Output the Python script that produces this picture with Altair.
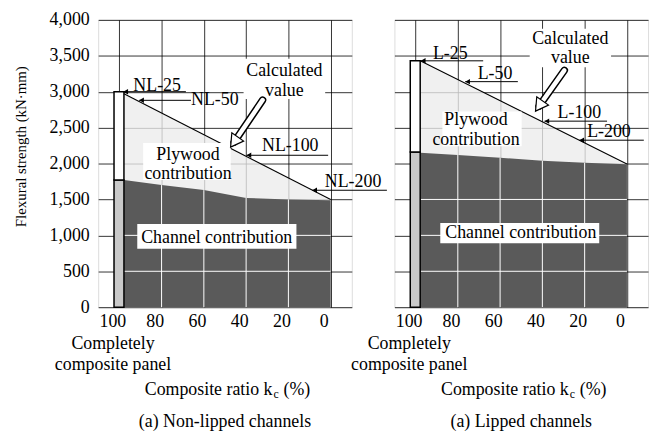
import altair as alt
import pandas as pd

FONT = "Liberation Serif, Times New Roman, serif"
W, H = 256, 290
KC_DOMAIN = [110, -10]
Y_DOMAIN = [0, 4000]
PX_KC = W / (KC_DOMAIN[0] - KC_DOMAIN[1])
PX_VAL = H / (Y_DOMAIN[1] - Y_DOMAIN[0])

x_ticks = [100, 80, 60, 40, 20, 0]
y_ticks = [0, 500, 1000, 1500, 2000, 2500, 3000, 3500, 4000]

# ---- (a) Non-lipped channels ----
nl_kc = [97.8, 80, 60, 40, 20, 0]
nl_channel = [1770, 1700, 1630, 1520, 1500, 1490]
nl_calc_kc = [97.8, 0]
nl_calc = [2970, 1500]
nl_full = [1770, 3000]          # completely composite panel: channel part, total
nl_names = ["NL-25", "NL-50", "NL-100", "NL-200"]

# ---- (a) Lipped channels ----
l_kc = [97.8, 80, 60, 40, 20, 0]
l_channel = [2150, 2120, 2080, 2040, 2010, 1990]
l_calc_kc = [97.8, 0]
l_calc = [3430, 1995]
l_full = [2160, 3430]
l_names = ["L-25", "L-50", "L-100", "L-200"]

BAR_KC = [102.5, 97.8]

# annotation geometry (composite ratio / strength coordinates)
nl_ann = dict(
    tip_kc=[98.1, 90.6, 39.8, 8.7], tip_val=[3000, 2880, 2115, 1628],
    end_kc=[68.5, 66.1, 1.2, -26.6],
    txt_kc=[82.1, 54.8, 19.1, -10.6], txt_val=[3015, 2814, 2172, 1676],
    calc_txt=[("Calculated", 21.9, 3220), ("value", 21.9, 2945)],
    calc_box=[41.2, 2.6, 3460, 2900],
    arrow=[32.2, 2883, 47.3, 2230],
    ply_txt=[("Plywood", 67.5, 2050), ("contribution", 67.5, 1779)],
    ply_box=[88.7, 47.3, 2285, 1770],
    ch_txt=[("Channel contribution", 53.9, 897)],
    ch_box=[91.5, 16.2, 1159, 814],
    caption="(a) Non-lipped channels",
)
l_ann = dict(
    tip_kc=[97.5, 76.5, 39.0, 22.5], tip_val=[3430, 3140, 2590, 2325],
    end_kc=[68.0, 51.6, 9.4, -8.0],
    txt_kc=[83.6, 62.4, 22.5, 8.5], txt_val=[3455, 3175, 2640, 2370],
    calc_txt=[("Calculated", 26.8, 3665), ("value", 26.8, 3393)],
    calc_box=[46.0, 7.5, 3875, 3340],
    arrow=[29.6, 3297, 43.2, 2731],
    ply_txt=[("Plywood", 71.4, 2530), ("contribution", 71.4, 2262)],
    ply_box=[87.3, 49.8, 2725, 2240],
    ch_txt=[("Channel contribution", 50.2, 966)],
    ch_box=[88.3, 13.1, 1172, 890],
    caption="(a) Lipped channels",
)

CHANNEL_FILL = "#5a5a5a"
PLY_FILL = "#ececec"


def X(field, axis):
    return alt.X(f"{field}:Q", scale=alt.Scale(domain=KC_DOMAIN, nice=False, zero=False), axis=axis)


def Y(field, axis):
    return alt.Y(f"{field}:Q", scale=alt.Scale(domain=Y_DOMAIN, nice=False), axis=axis)


def panel(kc, channel, calc_kc, calc, full, names, ann, show_y):
    xaxis = alt.Axis(values=x_ticks, grid=True, ticks=False, domain=False, title=None,
                     labelFont=FONT, labelFontSize=18, labelColor="black", labelOffset=-7,
                     labelPadding=5, labelFlush=False, labelOverlap=False,
                     gridColor="black", gridWidth=0.8)
    yaxis = alt.Axis(values=y_ticks, grid=True, ticks=False, domain=False, title=None,
                     labels=show_y, format=",d", labelFont=FONT, labelFontSize=18,
                     labelColor="black", labelPadding=9, gridColor="black", gridWidth=0.8)

    calc_df = pd.DataFrame({"kc": calc_kc, "v": calc})
    ch_df = pd.DataFrame({"kc": kc, "v": channel})

    ply = alt.Chart(calc_df).mark_area(color=PLY_FILL, opacity=0.78).encode(
        x=X("kc", xaxis), y=Y("v", yaxis), y2=alt.datum(0))
    ch = alt.Chart(ch_df).mark_area(color=CHANNEL_FILL, opacity=1).encode(
        x=X("kc", xaxis), y=Y("v", yaxis), y2=alt.datum(0))

    # white grid lines across the channel area
    vgrid = ch_df[ch_df["kc"].isin(x_ticks[1:-1])]
    vg = alt.Chart(vgrid).mark_rule(color="white", strokeWidth=1).encode(
        x=X("kc", xaxis), y=Y("v", yaxis), y2=alt.datum(0))
    hgrid = pd.DataFrame({"v": [t for t in y_ticks if 0 < t < min(channel)],})
    hgrid["k1"] = kc[0]
    hgrid["k2"] = kc[-1]
    hg = alt.Chart(hgrid).mark_rule(color="white", strokeWidth=1).encode(
        x=X("k1", xaxis), x2="k2:Q", y=Y("v", yaxis))

    bar_df = pd.DataFrame({"k1": [BAR_KC[0]], "k2": [BAR_KC[1]],
                           "v0": [0], "v1": [full[0]], "v2": [full[1]]})
    bar_lo = alt.Chart(bar_df).mark_rect(fill="#c9c9c9", stroke="black", strokeWidth=1.5).encode(
        x=X("k1", xaxis), x2="k2:Q", y=Y("v0", yaxis), y2="v1:Q")
    bar_hi = alt.Chart(bar_df).mark_rect(fill="white", stroke="black", strokeWidth=1.5).encode(
        x=X("k1", xaxis), x2="k2:Q", y=Y("v1", yaxis), y2="v2:Q")

    line = alt.Chart(calc_df).mark_line(color="black", strokeWidth=1.1).encode(
        x=X("kc", xaxis), y=Y("v", yaxis))

    lab_df = pd.DataFrame({"name": names, "tk": ann["tip_kc"], "tv": ann["tip_val"],
                           "ek": ann["end_kc"], "xk": ann["txt_kc"], "xv": ann["txt_val"]})
    leaders = alt.Chart(lab_df).mark_rule(color="black", strokeWidth=1).encode(
        x=X("tk", xaxis), x2="ek:Q", y=Y("tv", yaxis))
    heads = alt.Chart(lab_df).mark_point(shape="triangle-left", filled=True, color="black",
                                         size=30, opacity=1, xOffset=2.4).encode(
        x=X("tk", xaxis), y=Y("tv", yaxis))

    boxes = pd.DataFrame([ann["calc_box"], ann["ply_box"], ann["ch_box"]],
                         columns=["k1", "k2", "v1", "v2"])
    box = alt.Chart(boxes).mark_rect(fill="white").encode(
        x=X("k1", xaxis), x2="k2:Q", y=Y("v1", yaxis), y2="v2:Q")

    lab_txt = alt.Chart(lab_df).mark_text(font=FONT, fontSize=18, color="black",
                                          align="center", baseline="alphabetic").encode(
        x=X("xk", xaxis), y=Y("xv", yaxis), text="name:N")
    other = pd.DataFrame(ann["calc_txt"] + ann["ply_txt"] + ann["ch_txt"], columns=["t", "k", "v"])
    other_txt = alt.Chart(other).mark_text(font=FONT, fontSize=18, color="black",
                                           align="center", baseline="alphabetic").encode(
        x=X("k", xaxis), y=Y("v", yaxis), text="t:N")

    # hollow "Calculated value" arrow
    tk, tv, hk, hv = ann["arrow"]
    hc_k = hk - 3.5 / PX_KC
    hc_v = hv + 5.0 / PX_VAL
    shaft_df = pd.DataFrame({"k": [tk, hc_k], "v": [tv, hc_v]})
    shaft_o = alt.Chart(shaft_df).mark_line(color="black", strokeWidth=7.5, strokeCap="round").encode(
        x=X("k", xaxis), y=Y("v", yaxis))
    shaft_i = alt.Chart(shaft_df).mark_line(color="white", strokeWidth=4.5, strokeCap="round").encode(
        x=X("k", xaxis), y=Y("v", yaxis))
    head_df = pd.DataFrame({"k": [hk], "v": [hv]})
    head = alt.Chart(head_df).mark_point(shape="triangle-up", angle=215, size=210, filled=True,
                                         fill="white", stroke="black", strokeWidth=1.2, opacity=1,
                                         xOffset=3.5, yOffset=-5.0).encode(
        x=X("k", xaxis), y=Y("v", yaxis))

    def ptext(t, px, py, size=18, align="center", angle=0):
        return alt.Chart(alt.Data(values=[{"t": t}])).mark_text(
            font=FONT, fontSize=size, color="black", align=align, baseline="middle", angle=angle
        ).encode(x=alt.value(px), y=alt.value(py), text="t:N")

    bottom = [
        ptext("Completely", 15, 327),
        ptext("composite panel", 15, 348),
        ptext("Composite ratio k", 176, 374, align="right"),
        ptext("c", 177, 378, size=12, align="left"),
        ptext("(%)", 187, 374, align="left"),
        ptext(ann["caption"], 128, 406),
    ]
    if show_y:
        bottom.append(ptext("Flexural strength (kN·mm)", -78, 128, size=15, angle=270))

    return alt.layer(ply, ch, vg, hg, bar_lo, bar_hi, line, leaders, heads, box,
                     lab_txt, other_txt, shaft_o, shaft_i, head, *bottom).properties(
        width=W, height=H)


left = panel(nl_kc, nl_channel, nl_calc_kc, nl_calc, nl_full, nl_names, nl_ann, True)
right = panel(l_kc, l_channel, l_calc_kc, l_calc, l_full, l_names, l_ann, False)

chart = alt.hconcat(left, right, spacing=43, bounds="flush").properties(
    padding={"left": 5, "top": 0, "right": 5, "bottom": 0}
).configure_view(stroke="black", strokeWidth=1.5).configure(background="white")

chart.save("out.html", embed_options={"renderer": "svg", "actions": False})
